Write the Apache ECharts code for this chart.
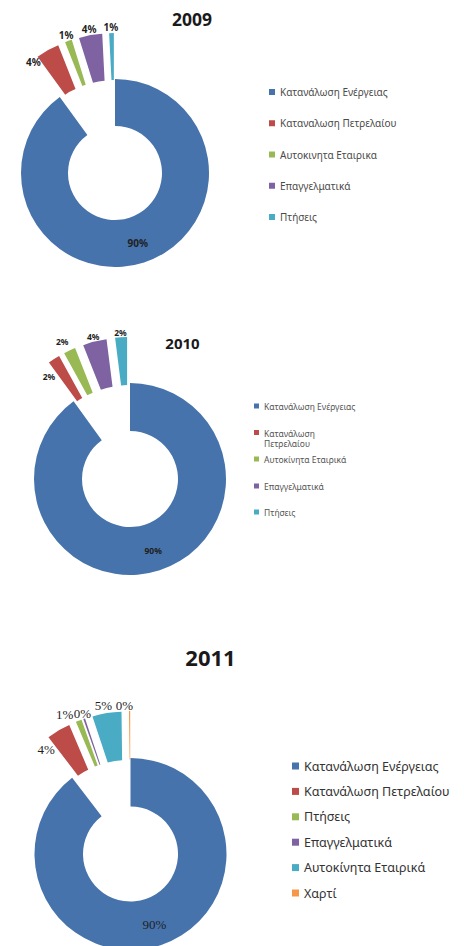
<!DOCTYPE html>
<html>
<head>
<meta charset="utf-8">
<script src="https://cdn.jsdelivr.net/npm/echarts@6/dist/echarts.min.js"></script>
<style>
html,body{margin:0;padding:0;background:#fff;}
.box{position:absolute;left:0;width:464px;}
</style>
</head>
<body>
<div id="c2009" class="box" style="top:0;height:300px"></div>
<div id="c2010" class="box" style="top:300px;height:330px"></div>
<div id="c2011" class="box" style="top:630px;height:316px"></div>
<script>
// data per year (values in %)
const cat2009 = ['Κατανάλωση Ενέργειας', 'Καταναλωση Πετρελαίου', 'Αυτοκινητα Εταιρικα', 'Επαγγελματικά', 'Πτήσεις'];
const val2009 = [90, 4, 1.2, 4, 0.8];

const cat2010 = ['Κατανάλωση Ενέργειας', 'Κατανάλωση Πετρελαίου', 'Αυτοκίνητα Εταιρικά', 'Επαγγελματικά', 'Πτήσεις'];
const val2010 = [90, 2, 2, 4, 2];

const cat2011 = ['Κατανάλωση Ενέργειας', 'Κατανάλωση Πετρελαίου', 'Πτήσεις', 'Επαγγελματικά', 'Αυτοκίνητα Εταιρικά', 'Χαρτί'];
const val2011 = [89.6, 4, 1, 0.3, 4.9, 0.2];

const colors = ['#4673ab', '#bd4b48', '#98b954', '#7e62a1', '#4aabc5', '#f79646'];

function drawPie(id, year, names, values, cfg) {
    let chart = echarts.init(document.getElementById(id), null, {renderer: 'svg'});
    let data = names.map(function (n, i) {
        return {
            name: n,
            value: values[i],
            selected: i > 0,
            label: {position: i === 0 ? 'inside' : 'outside'}
        };
    });
    let option = {
        animation: false,
        color: colors,
        graphic: [{
            type: 'text',
            x: cfg.title[0],
            y: cfg.title[1],
            style: {
                text: year,
                fontFamily: 'Noto Sans',
                fontSize: cfg.titleSize,
                fontWeight: 'bold',
                fill: '#1a1a1a',
                align: 'center',
                verticalAlign: 'middle'
            }
        }],
        legend: cfg.legend,
        series: [{
            type: 'pie',
            center: cfg.center,
            radius: cfg.radius,
            startAngle: 90,
            clockwise: true,
            avoidLabelOverlap: false,
            // nudge a few labels the way excel placed them
            labelLayout: function (p) {
                let o = cfg.labelOffset[p.dataIndex] || [0, 0];
                return {hideOverlap: false, dx: o[0], dy: o[1]};
            },
            selectedMode: 'multiple',
            selectedOffset: cfg.offset,
            emphasis: {disabled: true},
            label: {
                show: true,
                formatter: function (p) { return Math.round(p.percent) + '%'; },
                fontFamily: cfg.labelFont,
                fontSize: cfg.labelSize,
                fontWeight: cfg.labelWeight,
                color: '#1f1f1f',
                distanceToLabelLine: cfg.labelShift
            },
            labelLine: {show: false, length: cfg.labelGap, length2: 0},
            data: data
        }]
    };
    chart.setOption(option);
}

// 2009
drawPie('c2009', '2009', cat2009, val2009, {
    title: [192, 18.5], titleSize: 17.5,
    center: [115, 173], radius: [47, 94], offset: 46,
    labelFont: 'Noto Sans', labelSize: 10, labelWeight: 'bold', labelShift: -7, labelGap: 6,
    labelOffset: {1: [-11, 17]},
    legend: {
        orient: 'vertical', left: 269, top: 86, padding: 0,
        itemWidth: 6, itemHeight: 6, itemGap: 19.25,
        icon: 'rect',
        data: cat2009,
        textStyle: {fontFamily: 'Noto Sans', fontSize: 10, lineHeight: 12, color: '#4a4a4a'}
    }
});

// 2010 : one legend per entry, 2nd entry wraps on two lines
const legendCenters2010 = [106, 133, 159, 186, 212];
drawPie('c2010', '2010', cat2010, val2010, {
    title: [182.5, 42.5], titleSize: 15,
    center: [130, 179], radius: [48, 96], offset: 46,
    labelFont: 'Noto Sans', labelSize: 8.5, labelWeight: 'bold', labelShift: -6, labelGap: 5,
    labelOffset: {1: [-2, 22], 2: [-5, -4]},
    legend: cat2010.map(function (n, i) {
        let wrap = i === 1;
        return {
            orient: 'vertical', left: 254, top: legendCenters2010[i] - (wrap ? 17 : 5.5), padding: 0,
            itemWidth: 5, itemHeight: 5, icon: 'rect',
            data: [n],
            formatter: function (name) {
                return wrap ? '{a|' + name.replace(' ', '}\n{b|') + '}' : name;
            },
            textStyle: {
                fontFamily: 'Noto Sans', fontSize: 8.5, lineHeight: 11, color: '#555',
                rich: {
                    a: {fontFamily: 'Noto Sans', fontSize: 8.5, color: '#555', lineHeight: 22, verticalAlign: 'bottom'},
                    b: {fontFamily: 'Noto Sans', fontSize: 8.5, color: '#555', lineHeight: 11}
                }
            }
        };
    })
});

// 2011
drawPie('c2011', '2011', cat2011, val2011, {
    title: [210.5, 26.5], titleSize: 22,
    center: [130.5, 224], radius: [47.5, 96], offset: 47,
    labelFont: 'Liberation Serif', labelSize: 13, labelWeight: 'normal', labelShift: -8.5, labelGap: 8,
    labelOffset: {1: [-8, 26], 2: [-11, 1], 3: [1, 2], 4: [-2, 0], 5: [-5, 2]},
    legend: {
        orient: 'vertical', left: 292, top: 129, padding: 0,
        itemWidth: 7, itemHeight: 7, itemGap: 11.4,
        icon: 'rect',
        data: cat2011,
        textStyle: {fontFamily: 'Noto Sans', fontSize: 12.5, lineHeight: 14, color: '#333'}
    }
});
</script>
</body>
</html>
